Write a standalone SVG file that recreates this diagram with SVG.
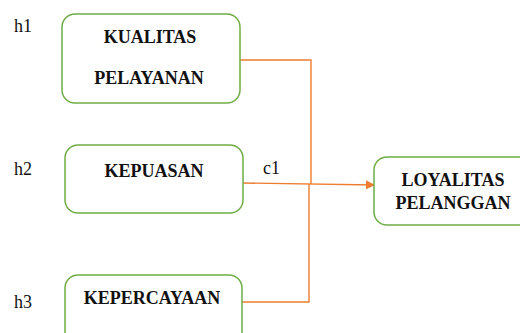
<svg xmlns="http://www.w3.org/2000/svg" width="520" height="333" viewBox="0 0 520 333">
<defs>
<style>
.box{fill:#fff;stroke:#70AD47;stroke-width:1.5}
.t{font-family:'Liberation Serif','DejaVu Serif',serif;font-weight:bold;font-size:18px;fill:#111;text-anchor:middle}
.l{font-family:'Liberation Serif','DejaVu Serif',serif;font-size:18px;fill:#111}
.c{fill:none;stroke:#ED7D31;stroke-width:1.4}
</style>
<marker id="ah" viewBox="0 0 10 10" refX="10" refY="5" markerWidth="10" markerHeight="9" markerUnits="userSpaceOnUse" orient="auto">
<path d="M0,0 L10,5 L0,10 Z" fill="#ED7D31"/>
</marker>
</defs>
<rect width="520" height="333" fill="#fff"/>
<g id="connectors">
<polyline class="c" points="240,60 311,60 311,184"/>
<polyline class="c" points="242,302 309,302 309,184"/>
<line class="c" x1="243" y1="183" x2="375" y2="185" marker-end="url(#ah)"/>
</g>
<g id="n1">
<rect class="box" x="62" y="14" width="178" height="89" rx="13"/>
<text class="t" x="150" y="43">KUALITAS</text>
<text class="t" x="149" y="84">PELAYANAN</text>
</g>
<g id="n2">
<rect class="box" x="65" y="145" width="178" height="68" rx="13"/>
<text class="t" x="154" y="177">KEPUASAN</text>
</g>
<g id="n3">
<rect class="box" x="65" y="275" width="177" height="70" rx="13"/>
<text class="t" x="152" y="304">KEPERCAYAAN</text>
</g>
<g id="n4">
<rect class="box" x="374" y="157" width="160" height="68" rx="13"/>
<text class="t" x="453" y="186">LOYALITAS</text>
<text class="t" x="453" y="209">PELANGGAN</text>
</g>
<g id="labels">
<text class="l" x="14" y="32">h1</text>
<text class="l" x="14" y="175">h2</text>
<text class="l" x="14" y="308">h3</text>
<text class="l" x="263" y="174">c1</text>
</g>
</svg>
